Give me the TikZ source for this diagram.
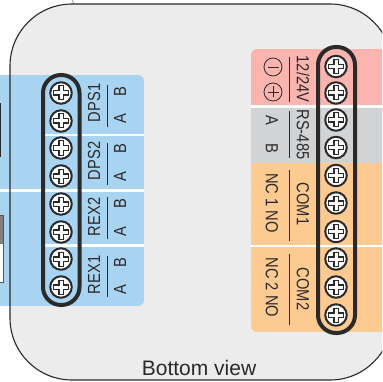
\documentclass[tikz,border=0pt]{standalone}
\usepackage{fontspec}
\setmainfont{Liberation Sans}
\usepackage{xcolor}
\definecolor{housing}{HTML}{ECECEC}
\definecolor{panelblue}{HTML}{A8D4F2}
\definecolor{panelpink}{HTML}{FBB4AE}
\definecolor{panelgray}{HTML}{D1D3D4}
\definecolor{panelorange}{HTML}{FDCB92}
\definecolor{ink}{HTML}{2B2A2A}

\begin{document}
\begin{tikzpicture}[
                x=1pt,y=-1pt,
                screw/.style={circle,draw=ink,line width=2pt,fill=white,minimum size=21.5pt,inner sep=0pt,
                    path picture={
                        \begin{scope}[shift={(path picture bounding box.center)}]
                            \draw[ink,line width=5.4pt] (-8,0) -- (8,0) (0,-7.5) -- (0,7.5);
                            \draw[white,line width=3pt] (-7,0) -- (7,0) (0,-6.5) -- (0,6.5);
                        \end{scope}
                    }},
                lbl/.style={text=ink,inner sep=0pt,font=\fontsize{17.5}{17.5}\selectfont,transform shape},
                up/.style={lbl,rotate=90,xscale=.84},
                down/.style={lbl,rotate=-90,xscale=.84},
                pill/.style={draw=ink,line width=4pt,rounded corners=18pt},
                rule/.style={ink,line width=.9pt},
                sign/.style={circle,draw=ink,line width=.8pt,minimum size=18pt,inner sep=0pt}
            ]
                \clip (0,0) rectangle (382,382);
                \fill[white] (0,0) rectangle (382,382);
                \draw[gray,line width=.5pt] (72,0) -- (74,4);

                % housing
                \fill[housing] (10,4) [rounded corners=62pt] rectangle (392,380);

                % left terminal block
                \begin{scope}
                    \clip[rounded corners=6pt] (-20,75) rectangle (144,306);
                    \fill[panelblue] (-20,75) rectangle (144,306);
                    \fill[white] (45,134) rectangle (144,136.5);
                    \fill[white] (0,189) rectangle (144,191.5);
                    \fill[white] (45,244) rectangle (144,246.5);
                \end{scope}

                % parts at the left edge
                \fill[ink] (0,103) rectangle (1,157);
                \fill[white] (-2,215) rectangle (3,282);
                \fill[gray] (-2,215) rectangle (3,244);
                \draw[ink!80,line width=1pt] (-2,215) rectangle (3,282);

                \draw[ink,line width=1.1pt,rounded corners=62pt] (10,4) rectangle (392,380);

                % right terminal block
                \begin{scope}
                    \clip[rounded corners=6pt] (251,49) rectangle (400,332);
                    \fill[panelpink] (251,49) rectangle (400,105);
                    \fill[white] (251,105) rectangle (400,108);
                    \fill[panelgray] (251,108) rectangle (400,163);
                    \fill[panelorange] (251,163) rectangle (400,332);
                    \fill[white] (251,244.5) rectangle (400,247);
                \end{scope}

                % left labels
                \node[up] (dps1)  at (94,103) {DPS1};
                \node[up] (dps1b) at (120,92) {B};
                \node[up] (dps1a) at (120,119) {A};
                \node[up] (dps2)  at (94,161) {DPS2};
                \node[up] (dps2b) at (120,149) {B};
                \node[up] (dps2a) at (120,177) {A};
                \node[up] (rex2)  at (94,217) {REX2};
                \node[up] (rex2b) at (120,204) {B};
                \node[up] (rex2a) at (120,232) {A};
                \node[up] (rex1)  at (94,275) {REX1};
                \node[up] (rex1b) at (120,263) {B};
                \node[up] (rex1a) at (120,290) {A};

                \draw[rule] (107,85) -- (107,127);
                \draw[rule] (107,143) -- (107,185);
                \draw[rule] (107,197) -- (107,239);
                \draw[rule] (107,256) -- (107,297);

                % right labels
                \node[down] (pwr)   at (303,79) {12/24V};
                \node[down] (rs)    at (303,134.5) {RS-485};
                \node[down] (com1)  at (303,204) {COM1};
                \node[down] (com2)  at (303,289) {COM2};
                \node[down] (rsa)   at (272,120) {A};
                \node[down] (rsb)   at (272,148) {B};
                \node[down] (nc1)   at (272,203) {NC 1 NO};
                \node[down] (nc2)   at (272,287.5) {NC 2 NO};
                \node[sign] (minus) at (273,67) {};
                \node[sign] (plus)  at (273,92) {};
                \draw[ink,line width=.8pt] (minus.center) ++(-5.5,0) -- ++(11,0);
                \draw[ink,line width=.8pt] (plus.center) ++(-5.5,0) -- ++(11,0);
                \draw[ink,line width=.8pt] (plus.center) ++(0,-5.5) -- ++(0,11);

                \draw[rule] (289,57) -- (289,102);
                \draw[rule] (289,111) -- (289,158);
                \draw[rule] (289,170) -- (289,241);
                \draw[rule] (289,254) -- (289,325);

                % screws, left
                \node[screw] (l1) at (61,93) {};
                \node[screw] (l2) at (61,121) {};
                \node[screw] (l3) at (61,148) {};
                \node[screw] (l4) at (61,176) {};
                \node[screw] (l5) at (61,204) {};
                \node[screw] (l6) at (61,232) {};
                \node[screw] (l7) at (61,259) {};
                \node[screw] (l8) at (61,287) {};

                % screws, right
                \node[screw] (r1)  at (336,66.5) {};
                \node[screw] (r2)  at (336,93) {};
                \node[screw] (r3)  at (336,120) {};
                \node[screw] (r4)  at (336,147.5) {};
                \node[screw] (r5)  at (336,175.5) {};
                \node[screw] (r6)  at (336,203) {};
                \node[screw] (r7)  at (336,231.5) {};
                \node[screw] (r8)  at (336,259) {};
                \node[screw] (r9)  at (336,287) {};
                \node[screw] (r10) at (336,315) {};

                \draw[pill] (43,75) rectangle (79.5,305);
                \draw[pill] (318,47) rectangle (355,333);

                \node[text=ink,inner sep=0pt,font=\fontsize{21}{21}\selectfont,anchor=base] (title) at (199,375) {Bottom view};
            \end{tikzpicture}
\end{document}
